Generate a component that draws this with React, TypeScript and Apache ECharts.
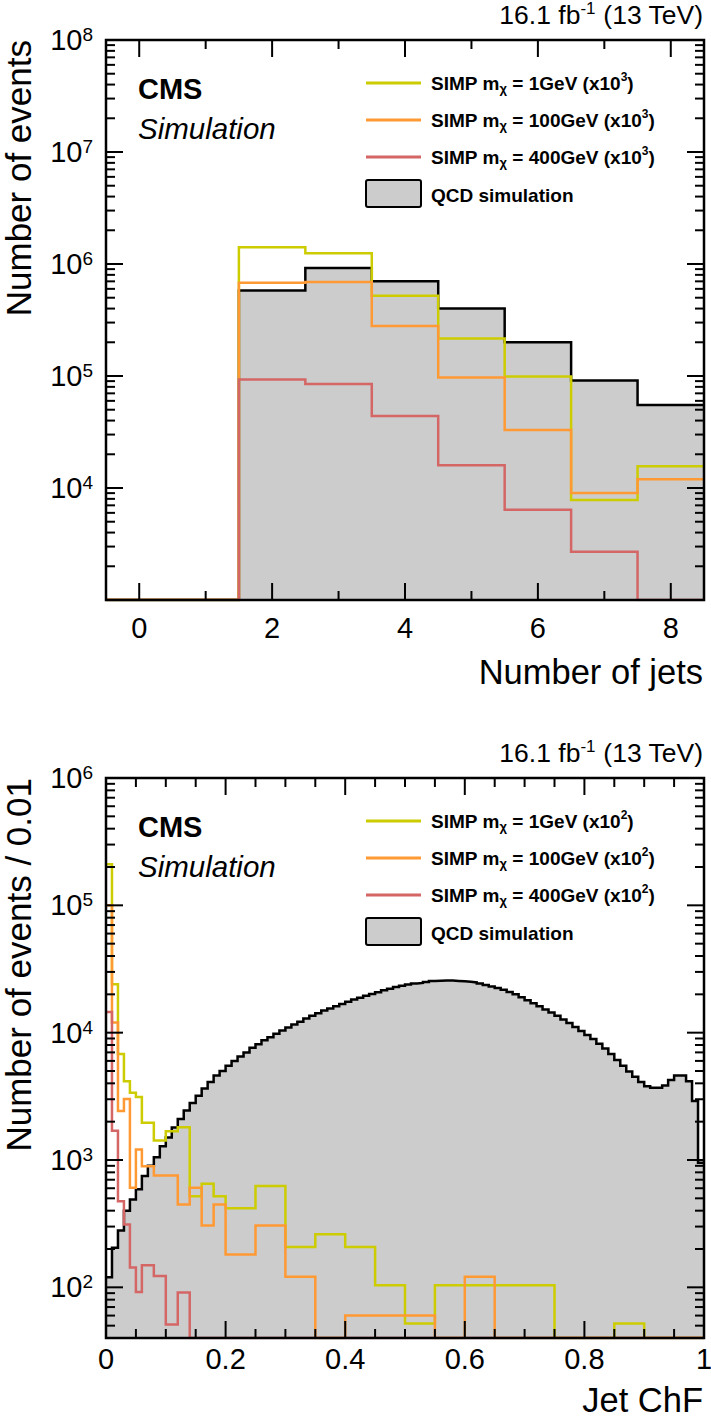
import React, { useEffect, useRef } from 'react';
import * as echarts from 'echarts';

const FONT = '"Liberation Sans", Arial, Helvetica, sans-serif';

// ---------------- Top panel: number of jets ----------------
const JETS_EDGES = [-0.5, 0.5, 1.5, 2.5, 3.5, 4.5, 5.5, 6.5, 7.5, 8.5];
const JETS_QCD = [0, 0, 5.8e5, 9.2e5, 7.0e5, 4.0e5, 2.0e5, 9.1e4, 5.5e4];
const JETS_SIMP1 = [0, 0, 1.41e6, 1.25e6, 5.2e5, 2.16e5, 9.9e4, 7.8e3, 1.56e4];
const JETS_SIMP100 = [0, 0, 6.8e5, 6.9e5, 2.8e5, 9.7e4, 3.3e4, 9.0e3, 1.2e4];
const JETS_SIMP400 = [0, 0, 9.3e4, 8.5e4, 4.4e4, 1.6e4, 6.4e3, 2.7e3, 0];
const JETS_X_MAJOR = [0, 2, 4, 6, 8];
const JETS_X_MINOR = [1, 3, 5, 7];
const JETS_Y_MIN = 1e3;
const JETS_Y_MAX = 1e8;

// ---------------- Bottom panel: jet charged fraction ----------------
const CHF_BIN_WIDTH = 0.01;
const CHF_QCD = [
  120, 205, 280, 400, 490, 590, 750, 900, 1050, 1280,
  1500, 1800, 2100, 2450, 2800, 3200, 3650, 4100, 4600, 5000,
  5500, 6000, 6500, 7000, 7600, 8100, 8700, 9200, 9800, 10400,
  11000, 11600, 12200, 12900, 13600, 14200, 14900, 15500, 16100, 16800,
  17500, 18200, 18800, 19500, 20100, 20800, 21500, 22100, 22800, 23400,
  23900, 24300, 24600, 25000, 25400, 25600, 25700, 25700, 25500, 25300,
  25100, 24800, 24300, 23700, 23000, 22400, 21700, 20900, 20000, 19000,
  18000, 17000, 16100, 15200, 14400, 13600, 12700, 11900, 11100, 10300,
  9600, 8900, 8200, 7500, 6800, 6100, 5500, 4950, 4500, 4100,
  3800, 3700, 3700, 3850, 4250, 4600, 4600, 4150, 2900, 950,
];
const CHF_SIMP1_EDGES = [0, 0.01, 0.02, 0.03, 0.04, 0.05, 0.06, 0.08, 0.1, 0.12, 0.14, 0.16, 0.18, 0.2, 0.25, 0.3, 0.35, 0.4, 0.45, 0.5, 0.55, 0.75, 0.85, 0.9, 1.0];
const CHF_SIMP1 = [2.1e5, 2.4e4, 6800, 4150, 3370, 3130, 1960, 1420, 1680, 1810, 520, 650, 520, 417, 624, 207, 261, 207, 104, 52, 104, 0, 52, 0];
const CHF_SIMP100_EDGES = [0, 0.01, 0.02, 0.03, 0.04, 0.05, 0.06, 0.08, 0.12, 0.14, 0.16, 0.18, 0.2, 0.25, 0.3, 0.35, 0.4, 0.55, 0.6, 0.65, 1.0];
const CHF_SIMP100 = [1.0e5, 1.2e4, 2420, 3020, 605, 1210, 895, 755, 448, 605, 306, 448, 181, 306, 121, 0, 60, 0, 121, 0];
const CHF_SIMP400_EDGES = [0, 0.01, 0.02, 0.03, 0.04, 0.05, 0.06, 0.08, 0.1, 0.12, 0.14, 1.0];
const CHF_SIMP400 = [1.45e4, 1700, 475, 312, 143, 92, 149, 123, 51, 91, 0];
const CHF_X_MAJOR = [0, 0.2, 0.4, 0.6, 0.8, 1.0];
const CHF_X_MINOR = [0.05, 0.1, 0.15, 0.25, 0.3, 0.35, 0.45, 0.5, 0.55, 0.65, 0.7, 0.75, 0.85, 0.9, 0.95];
const CHF_Y_MIN = 40;
const CHF_Y_MAX = 1e6;

const LEGEND_MASSES = ['1GeV', '100GeV', '400GeV'];
const COLORS = ['#cccc00', '#ff9933', '#d46666'];
const QCD_FILL = '#cccccc';

// ---------------- layout ----------------
const LEFT = 106;
const PLOT_W = 598;
const PLOT_H = 560;
const TOPS = [40, 778];

function histPoints(edges: number[], values: number[], floor: number) {
  const pts: [number, number][] = [];
  for (let i = 0; i < values.length; i++) {
    const v = values[i] > 0 ? values[i] : floor;
    pts.push([edges[i], v], [edges[i + 1], v]);
  }
  return pts;
}

function uniformEdges(n: number, w: number) {
  const e: number[] = [];
  for (let i = 0; i <= n; i++) e.push(Math.round(i * w * 1e6) / 1e6);
  return e;
}

function logMinor(kFrom: number, kTo: number, lo: number, hi: number) {
  const out: number[] = [];
  for (let k = kFrom; k <= kTo; k++) {
    for (let m = 2; m <= 9; m++) {
      const v = m * Math.pow(10, k);
      if (v > lo * 1.0001 && v < hi * 0.9999) out.push(v);
    }
  }
  return out;
}

function logMajor(kFrom: number, kTo: number) {
  const out: number[] = [];
  for (let k = kFrom; k <= kTo; k++) out.push(Math.pow(10, k));
  return out;
}

function tickData(xMaj: number[], xMin: number[], yMaj: number[], yMin: number[], xRef: number, yRef: number) {
  const d: number[][] = [];
  xMaj.forEach((v) => d.push([v, yRef, 0]));
  xMin.forEach((v) => d.push([v, yRef, 1]));
  yMaj.forEach((v) => d.push([xRef, v, 2]));
  yMin.forEach((v) => d.push([xRef, v, 3]));
  d.push([xRef, yRef, 4]);
  return d;
}

const renderTicks = (params: any, api: any) => {
  const cs = params.coordSys;
  const k = api.value(2);
  const st = { stroke: '#000', lineWidth: 2, fill: 'none' };
  if (k === 4) {
    return {
      type: 'rect',
      shape: { x: cs.x, y: cs.y, width: cs.width, height: cs.height },
      style: { stroke: '#000', lineWidth: 2.5, fill: 'none' },
    };
  }
  const p = api.coord([api.value(0), api.value(1)]);
  const top = cs.y;
  const bot = cs.y + cs.height;
  const left = cs.x;
  const right = cs.x + cs.width;
  if (k === 0 || k === 1) {
    const len = k === 0 ? 17 : 9;
    return {
      type: 'group',
      children: [
        { type: 'line', shape: { x1: p[0], y1: bot, x2: p[0], y2: bot - len }, style: st },
        { type: 'line', shape: { x1: p[0], y1: top, x2: p[0], y2: top + len }, style: st },
      ],
    };
  }
  const len = k === 2 ? 17 : 9;
  return {
    type: 'group',
    children: [
      { type: 'line', shape: { x1: left, y1: p[1], x2: left + len, y2: p[1] }, style: st },
      { type: 'line', shape: { x1: right, y1: p[1], x2: right - len, y2: p[1] }, style: st },
    ],
  };
};

function histSeries(idx: number, edges: number[], vals: number[], floor: number, color: string, fill: boolean) {
  const s: any = {
    type: 'line',
    xAxisIndex: idx,
    yAxisIndex: idx,
    data: histPoints(edges, vals, floor),
    symbol: 'none',
    showSymbol: false,
    silent: true,
    clip: true,
    lineStyle: { color, width: 2.5, join: 'miter' },
    z: fill ? 2 : 3,
  };
  if (fill) s.areaStyle = { color: QCD_FILL, opacity: 1, origin: 'start' };
  return s;
}

function yLabelFormatter(minShown: number) {
  return (v: number) => {
    const e = Math.log10(v);
    const r = Math.round(e);
    if (Math.abs(e - r) > 1e-6 || v < minShown * 0.999) return '';
    return `{b|10}{s|${r}}`;
  };
}

const Y_RICH = {
  b: { fontSize: 29, fontFamily: FONT, color: '#000', lineHeight: 30 },
  s: { fontSize: 19, fontFamily: FONT, color: '#000', lineHeight: 16, verticalAlign: 'top' },
};

function richText(x: number, y: number, text: string, rich: any, base: any, align = 'left') {
  return {
    type: 'text',
    x,
    y,
    silent: true,
    style: {
      text,
      rich,
      fill: '#000',
      fontFamily: FONT,
      align,
      textAlign: align,
      verticalAlign: 'middle',
      textVerticalAlign: 'middle',
      ...base,
    },
  };
}

function plainText(x: number, y: number, text: string, base: any, align = 'left', rotation = 0) {
  return {
    type: 'text',
    x,
    y,
    rotation,
    silent: true,
    style: {
      text,
      fill: '#000',
      fontFamily: FONT,
      align,
      textAlign: align,
      verticalAlign: 'middle',
      textVerticalAlign: 'middle',
      ...base,
    },
  };
}

const LEG_RICH = {
  b: { fontSize: 19, fontWeight: 'bold', fontFamily: FONT, fill: '#000', color: '#000', lineHeight: 24 },
  sub: { fontSize: 13, fontWeight: 'bold', fontFamily: FONT, fill: '#000', color: '#000', lineHeight: 6, verticalAlign: 'bottom' },
  sup: { fontSize: 12, fontWeight: 'bold', fontFamily: FONT, fill: '#000', color: '#000', lineHeight: 8, verticalAlign: 'top' },
};

const TITLE_RICH = {
  t: { fontSize: 26.5, fontFamily: FONT, fill: '#000', color: '#000', lineHeight: 30 },
  s: { fontSize: 17, fontFamily: FONT, fill: '#000', color: '#000', lineHeight: 12, verticalAlign: 'top' },
};

function panelGraphics(top: number, scaleExp: string, xTitle: string, xTitleDy: number, yTitle: string) {
  const els: any[] = [];
  const bottom = top + PLOT_H;
  els.push(richText(703, top - 25, '{t|16.1 fb}{s|-1}{t| (13 TeV)}', TITLE_RICH, { fontSize: 26.5 }, 'right'));
  els.push(plainText(138, top + 49, 'CMS', { fontSize: 29, fontWeight: 'bold' }));
  els.push(plainText(138, top + 88, 'Simulation', { fontSize: 29.5, fontStyle: 'italic' }));
  const rows = [43, 80, 117];
  LEGEND_MASSES.forEach((m, i) => {
    const y = top + rows[i];
    els.push({
      type: 'line',
      silent: true,
      shape: { x1: 366, y1: y, x2: 421, y2: y },
      style: { stroke: COLORS[i], lineWidth: 3 },
    });
    els.push(richText(431, y, `{b|SIMP m}{sub|χ}{b| = ${m} (x10}{sup|${scaleExp}}{b|)}`, LEG_RICH, { fontSize: 19 }));
  });
  els.push({
    type: 'rect',
    silent: true,
    shape: { x: 366, y: top + 140, width: 55, height: 27, r: 2 },
    style: { fill: QCD_FILL, stroke: '#000', lineWidth: 2 },
  });
  els.push(plainText(431, top + 155, 'QCD simulation', { fontSize: 19, fontWeight: 'bold' }));
  els.push(plainText(703, bottom + xTitleDy, xTitle, { fontSize: 34.5 }, 'right'));
  els.push(plainText(18, top, yTitle, { fontSize: 35 }, 'right', Math.PI / 2));
  return els;
}

function buildOption() {
  const chfEdges = uniformEdges(CHF_QCD.length, CHF_BIN_WIDTH);
  const axisCommon = {
    axisLine: { show: false },
    axisTick: { show: false },
    splitLine: { show: false },
  };
  return {
    animation: false,
    backgroundColor: '#ffffff',
    textStyle: { fontFamily: FONT },
    grid: TOPS.map((t) => ({
      left: LEFT,
      top: t,
      width: PLOT_W,
      height: PLOT_H,
      containLabel: false,
      outerBoundsMode: 'none',
      show: false,
    })),
    xAxis: [
      {
        gridIndex: 0,
        type: 'value',
        min: -0.5,
        max: 8.5,
        ...axisCommon,
        axisLabel: {
          fontSize: 29,
          fontFamily: FONT,
          color: '#000',
          margin: 13,
          formatter: (v: number) =>
            Math.abs(v - Math.round(v)) < 1e-9 && Math.round(v) % 2 === 0 ? String(Math.round(v)) : '',
        },
      },
      {
        gridIndex: 1,
        type: 'value',
        min: 0,
        max: 1,
        interval: 0.2,
        ...axisCommon,
        axisLabel: {
          fontSize: 29,
          fontFamily: FONT,
          color: '#000',
          margin: 6,
          formatter: (v: number) => String(Math.round(v * 10) / 10),
        },
      },
    ],
    yAxis: [
      {
        gridIndex: 0,
        type: 'log',
        logBase: 10,
        min: JETS_Y_MIN,
        max: JETS_Y_MAX,
        ...axisCommon,
        axisLabel: { margin: 13, formatter: yLabelFormatter(1e4), rich: Y_RICH },
      },
      {
        gridIndex: 1,
        type: 'log',
        logBase: 10,
        min: CHF_Y_MIN,
        max: CHF_Y_MAX,
        ...axisCommon,
        axisLabel: { margin: 13, formatter: yLabelFormatter(100), rich: Y_RICH },
      },
    ],
    series: [
      histSeries(0, JETS_EDGES, JETS_QCD, JETS_Y_MIN, '#000', true),
      histSeries(0, JETS_EDGES, JETS_SIMP1, JETS_Y_MIN, COLORS[0], false),
      histSeries(0, JETS_EDGES, JETS_SIMP100, JETS_Y_MIN, COLORS[1], false),
      histSeries(0, JETS_EDGES, JETS_SIMP400, JETS_Y_MIN, COLORS[2], false),
      histSeries(1, chfEdges, CHF_QCD, CHF_Y_MIN, '#000', true),
      histSeries(1, CHF_SIMP1_EDGES, CHF_SIMP1, CHF_Y_MIN, COLORS[0], false),
      histSeries(1, CHF_SIMP100_EDGES, CHF_SIMP100, CHF_Y_MIN, COLORS[1], false),
      histSeries(1, CHF_SIMP400_EDGES, CHF_SIMP400, CHF_Y_MIN, COLORS[2], false),
      {
        type: 'custom',
        xAxisIndex: 0,
        yAxisIndex: 0,
        silent: true,
        z: 10,
        clip: false,
        dimensions: ['x', 'y', 'k'],
        encode: { x: 0, y: 1 },
        data: tickData(JETS_X_MAJOR, JETS_X_MINOR, logMajor(3, 8), logMinor(3, 7, JETS_Y_MIN, JETS_Y_MAX), -0.5, JETS_Y_MIN),
        renderItem: renderTicks,
      },
      {
        type: 'custom',
        xAxisIndex: 1,
        yAxisIndex: 1,
        silent: true,
        z: 10,
        clip: false,
        dimensions: ['x', 'y', 'k'],
        encode: { x: 0, y: 1 },
        data: tickData(CHF_X_MAJOR, CHF_X_MINOR, logMajor(2, 6), logMinor(1, 5, CHF_Y_MIN, CHF_Y_MAX), 0, CHF_Y_MIN),
        renderItem: renderTicks,
      },
    ],
    graphic: {
      elements: [
        ...panelGraphics(TOPS[0], '3', 'Number of jets', 72, 'Number of events'),
        ...panelGraphics(TOPS[1], '2', 'Jet ChF', 62, 'Number of events / 0.01'),
      ],
    },
  };
}

export default function App() {
  const ref = useRef<HTMLDivElement>(null);
  useEffect(() => {
    document.body.style.margin = '0';
    const chart = echarts.init(ref.current!, undefined, { renderer: 'svg' });
    chart.setOption(buildOption() as any);
    return () => chart.dispose();
  }, []);
  return <div ref={ref} style={{ width: 711, height: 1424 }} />;
}
